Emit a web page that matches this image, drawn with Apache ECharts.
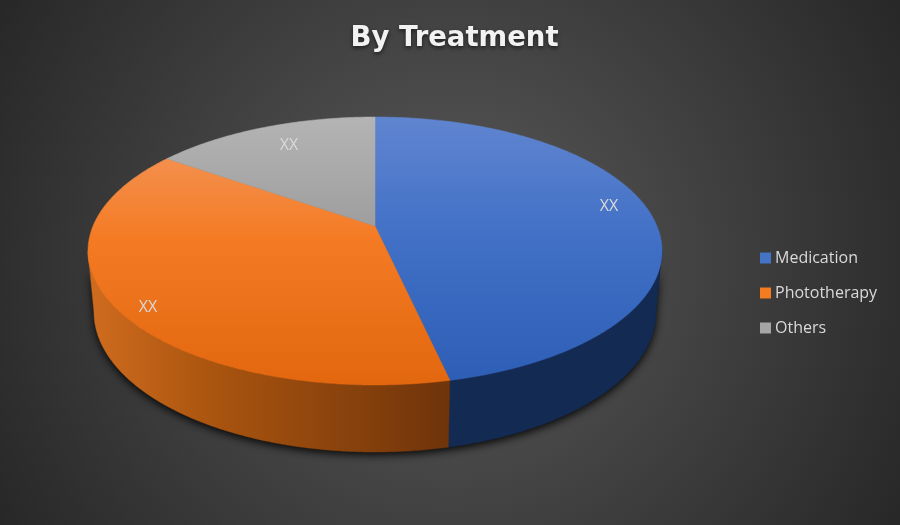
<!DOCTYPE html>
<html>
<head>
<meta charset="utf-8">
<style>html,body{margin:0;padding:0;background:#333}#c{width:900px;height:525px}</style>
<script src="https://cdn.jsdelivr.net/npm/echarts@6/dist/echarts.min.js"></script>
</head>
<body>
<div id="c"></div>
<script>
const categories = ['Medication', 'Phototherapy', 'Others'];
const shares = [45.8, 41.3, 12.9];
const sliceLabels = ['XX', 'XX', 'XX'];

const total = shares.reduce((a, b) => a + b, 0);
const top3d = { cx: 375, cy: 251, rx: 287, ry: 134 };
const bottom3d = { cx: 375, cy: 312, rx: 281, ry: 140 };
const apex = [375, 226];
const labelAt = [[609, 206], [148, 307], [289, 145]];
const legendColors = ['#4472c4', '#f47b20', '#a5a5a5'];
const topStops = [
  [[0, '#6085d0'], [0.45, '#4170c6'], [1, '#2d5eb5']],
  [[0, '#f39a62'], [0.45, '#f47b24'], [1, '#e2670f']],
  [[0, '#b4b4b4'], [0.45, '#9c9c9c'], [1, '#8c8c8c']]
];
const wallStops = [
  [[0, '#132a52'], [1, '#132a52']],
  [[0, '#d06c1f'], [0.35, '#a9540f'], [1, '#6f340a']],
  [[0, '#777777'], [1, '#777777']]
];

function pt(e, deg) {
  const t = deg * Math.PI / 180;
  return [e.cx + e.rx * Math.sin(t), e.cy - e.ry * Math.cos(t)];
}
function arc(e, a, b) {
  const out = [], n = Math.max(2, Math.ceil(Math.abs(b - a) * 2));
  for (let i = 0; i <= n; i++) out.push(pt(e, a + (b - a) * i / n));
  return out;
}
function grad(x, y, x2, y2, stops) {
  return new echarts.graphic.LinearGradient(x, y, x2, y2,
    stops.map(s => ({ offset: s[0], color: s[1] })), true);
}
function sliceRender(index) {
  return function (params, api) {
    const before = shares.slice(0, index).reduce((a, b) => a + b, 0);
    const a0 = before / total * 360;
    const a1 = a0 + api.value(0) / total * 360;
    const children = [];
    if (index === 0) {
      const sil = arc(top3d, 270, 90).concat(arc(bottom3d, 90, 270));
      children.push({
        type: 'polygon', silent: true,
        shape: { points: sil },
        style: { fill: '#0c0c0c', shadowBlur: 8, shadowColor: 'rgba(0,0,0,0.9)', shadowOffsetY: 3 }
      });
    }
    const w0 = Math.max(a0, 90), w1 = Math.min(a1, 270);
    if (w1 > w0) {
      const a = arc(top3d, w0, w1), b = arc(bottom3d, w1, w0);
      const xs = a.concat(b).map(p => p[0]);
      const xl = Math.min.apply(null, xs), xr = Math.max.apply(null, xs);
      const wallFill = grad(xl, 0, xr, 0, wallStops[index]);
      children.push({
        type: 'polygon',
        shape: { points: a.concat(b) },
        style: { fill: wallFill, stroke: wallFill, lineWidth: 0.5 }
      });
    }
    const topFill = grad(0, top3d.cy - top3d.ry, 0, top3d.cy + top3d.ry, topStops[index]);
    children.push({
      type: 'polygon',
      shape: { points: [apex].concat(arc(top3d, a0, a1)) },
      style: { fill: topFill, stroke: topFill, lineWidth: 0.5 }
    });
    return { type: 'group', children: children };
  };
}
function labelRender(params, api) {
  return {
    type: 'group',
    children: sliceLabels.map((s, i) => ({
      type: 'text',
      style: {
        x: labelAt[i][0], y: labelAt[i][1], text: s,
        fill: '#d9d9d9', font: '16px "Open Sans"',
        textAlign: 'center', textVerticalAlign: 'middle'
      }
    }))
  };
}

const series = categories.map((name, i) => ({
  type: 'custom', name: name, coordinateSystem: 'none',
  renderItem: sliceRender(i), data: [[shares[i]]],
  itemStyle: { color: legendColors[i] }, silent: true, animation: false
}));
series.push({
  type: 'custom', name: 'labels', coordinateSystem: 'none', z: 5,
  renderItem: labelRender, data: [[0]], silent: true, animation: false
});

const chart = echarts.init(document.getElementById('c'), null, { renderer: 'canvas', width: 900, height: 525 });
chart.setOption({
  animation: false,
  backgroundColor: new echarts.graphic.RadialGradient(0.5, 0.5, 1.0, [
    { offset: 0, color: '#5a5a5a' }, { offset: 1, color: '#272727' }
  ]),
  title: {
    text: 'By Treatment', left: 449.5, top: 20, textAlign: 'center',
    textStyle: {
      color: '#f2f2f2', fontFamily: 'DejaVu Sans', fontWeight: 'bold', fontSize: 27.5,
      textShadowColor: 'rgba(0,0,0,0.6)', textShadowBlur: 4, textShadowOffsetY: 2
    }
  },
  legend: {
    data: categories, orient: 'vertical', left: 760, top: 247,
    icon: 'rect', itemWidth: 11, itemHeight: 11, itemGap: 13, padding: 0,
    itemStyle: { borderWidth: 0 },
    textStyle: { color: '#d9d9d9', fontFamily: 'Open Sans', fontSize: 16, padding: [0, 0, 0, -1], height: 22, lineHeight: 22 }
  },
  series: series
});
</script>
</body>
</html>
